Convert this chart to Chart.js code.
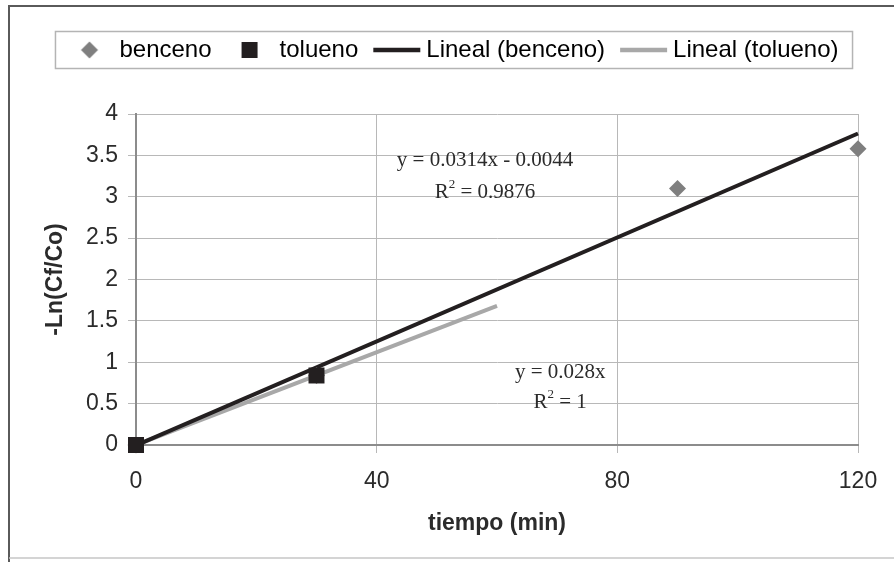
<!DOCTYPE html>
<html>
<head>
<meta charset="utf-8">
<script src="https://cdn.jsdelivr.net/npm/chart.js@4.4.1/dist/chart.umd.min.js"></script>
<style>
html, body { margin: 0; padding: 0; background: #fff; }
#wrap { width: 894px; height: 562px; position: relative; }
</style>
</head>
<body>
<div id="wrap"><canvas id="grafiek"></canvas></div>
<script>
// meetpunten
const bencenoX = [0, 30, 90, 120];
const bencenoY = [0, 0.84, 3.1, 3.58];
const toluenoX = [0, 30];
const toluenoY = [0, 0.84];

// trendlijnen: begin- en eindpunt zoals in de figuur
const lijnBencenoX = [0, 120];
const lijnBencenoY = [-0.0044, 3.764];
const lijnToluenoX = [0, 60];
const lijnToluenoY = [0, 1.68];

const xTicks = [0, 40, 80, 120];
const yTicks = [0, 0.5, 1, 1.5, 2, 2.5, 3, 3.5, 4];

const reeksNamen = ['benceno', 'tolueno', 'Lineal (benceno)', 'Lineal (tolueno)'];
const vergelijkingen = ['y = 0.0314x - 0.0044', 'y = 0.028x'];
const r2Waarden = ['0.9876', '1'];

// kleuren
const GRIJS_RUIT = '#7f7f7f';
const ZWART = '#231f20';
const GRIJS_LIJN = '#a8a8a8';
const TEKST = '#2b2b2b';
const SANS = '"Liberation Sans", Arial, sans-serif';
const SERIF = '"Liberation Serif", "Times New Roman", serif';

// plek van de vergelijkingen (in asseneenheden)
const labelPlek = [
    { x: 58, y1: 3.44, y2: 3.05 },
    { x: 70.5, y1: 0.88, y2: 0.51 }
];

function punten(xs, ys) { return xs.map((x, i) => ({ x: x, y: ys[i] })); }

function maakIcoon(w, h, teken) {
    const c = document.createElement('canvas');
    c.width = w; c.height = h;
    teken(c.getContext('2d'));
    return c;
}

const icoonRuit = maakIcoon(30, 24, ctx => {
    ctx.fillStyle = GRIJS_RUIT;
    ctx.beginPath();
    ctx.moveTo(12, 3.5); ctx.lineTo(20.5, 12); ctx.lineTo(12, 20.5); ctx.lineTo(3.5, 12);
    ctx.closePath(); ctx.fill();
});
const icoonVierkant = maakIcoon(30, 24, ctx => {
    ctx.fillStyle = ZWART;
    ctx.fillRect(4, 4, 16, 16);
});
function icoonLijn(kleur) {
    return maakIcoon(60, 24, ctx => {
        ctx.strokeStyle = kleur; ctx.lineWidth = 4.5;
        ctx.beginPath(); ctx.moveTo(4, 12); ctx.lineTo(51, 12); ctx.stroke();
    });
}
const iconen = [icoonRuit, icoonVierkant, icoonLijn(ZWART), icoonLijn(GRIJS_LIJN)];

// kader rond de figuur
const kaderPlugin = {
    id: 'kader',
    beforeDraw(chart) {
        const ctx = chart.ctx;
        ctx.save();
        ctx.fillStyle = '#fff';
        ctx.fillRect(0, 0, chart.width, chart.height);
        ctx.strokeStyle = '#5a5a5a'; ctx.lineWidth = 2;
        ctx.beginPath(); ctx.moveTo(9, chart.height); ctx.lineTo(9, 6); ctx.lineTo(chart.width, 6); ctx.stroke();
        ctx.strokeStyle = '#c6c6c6'; ctx.lineWidth = 1.5;
        ctx.beginPath(); ctx.moveTo(9, 558); ctx.lineTo(chart.width, 558); ctx.stroke();
        ctx.restore();
    }
};

// legenda verschuiven en omkaderen
const legendaPlugin = {
    id: 'legendaKader',
    afterLayout(chart) {
        const lg = chart.legend;
        const dx = 24, dy = 12 - lg.top;
        lg.left += dx; lg.right += dx;
        lg.top += dy; lg.bottom += dy;
    },
    afterDraw(chart) {
        const lg = chart.legend;
        const pad = lg.options.labels.padding;
        const start = (lg.left + pad + lg.right - lg.lineWidths[0]) / 2;
        const eind = start + lg.lineWidths[0] - pad;
        const midden = lg.top + pad + 12;
        const ctx = chart.ctx;
        ctx.save();
        ctx.strokeStyle = '#b4b4b4'; ctx.lineWidth = 1.5;
        ctx.strokeRect(start - 22, midden - 18.5, eind - start + 36, 37);
        ctx.restore();
    }
};

// vergelijkingen van de trendlijnen
const vergelijkingPlugin = {
    id: 'vergelijkingen',
    afterDatasetsDraw(chart) {
        const ctx = chart.ctx;
        const sx = chart.scales.x, sy = chart.scales.y;
        ctx.save();
        ctx.fillStyle = TEKST;
        ctx.textBaseline = 'middle';
        labelPlek.forEach((p, i) => {
            const cx = sx.getPixelForValue(p.x);
            ctx.font = '21px ' + SERIF;
            ctx.textAlign = 'center';
            ctx.fillText(vergelijkingen[i], cx, sy.getPixelForValue(p.y1));

            const y2 = sy.getPixelForValue(p.y2);
            const rest = ' = ' + r2Waarden[i];
            const wR = ctx.measureText('R').width, wRest = ctx.measureText(rest).width;
            ctx.font = '13px ' + SERIF;
            const w2 = ctx.measureText('2').width;
            let x = cx - (wR + w2 + wRest) / 2;
            ctx.textAlign = 'left';
            ctx.font = '21px ' + SERIF;
            ctx.fillText('R', x, y2);
            ctx.font = '13px ' + SERIF;
            ctx.fillText('2', x + wR, y2 - 8);
            ctx.font = '21px ' + SERIF;
            ctx.fillText(rest, x + wR + w2, y2);
        });
        ctx.restore();
    }
};

new Chart(document.getElementById('grafiek'), {
    type: 'scatter',
    data: {
        datasets: [
            { label: reeksNamen[0], data: punten(bencenoX, bencenoY), pointStyle: 'rectRot', pointRadius: 8.5,
              backgroundColor: GRIJS_RUIT, borderWidth: 0, order: 1, clip: false },
            { label: reeksNamen[1], data: punten(toluenoX, toluenoY), pointStyle: 'rect', pointRadius: 11.3,
              backgroundColor: ZWART, borderWidth: 0, order: 0, clip: false },
            { type: 'line', label: reeksNamen[2], data: punten(lijnBencenoX, lijnBencenoY), showLine: true,
              borderColor: ZWART, borderWidth: 4, pointRadius: 0, order: 2, clip: false },
            { type: 'line', label: reeksNamen[3], data: punten(lijnToluenoX, lijnToluenoY), showLine: true,
              borderColor: GRIJS_LIJN, borderWidth: 4, pointRadius: 0, order: 3 }
        ]
    },
    options: {
        responsive: true, maintainAspectRatio: false, animation: false,
        layout: { padding: { left: 10, right: 36, top: 54, bottom: 0 } },
        plugins: {
            tooltip: { enabled: false },
            legend: {
                position: 'top',
                labels: {
                    usePointStyle: true, pointStyleWidth: 30, boxHeight: 24, padding: 26,
                    color: TEKST, font: { family: SANS, size: 24 },
                    generateLabels: chart => chart.data.datasets.map((ds, i) => ({
                        text: ds.label, pointStyle: iconen[i], fillStyle: 'transparent',
                        strokeStyle: 'transparent', lineWidth: 0, hidden: false, datasetIndex: i
                    }))
                }
            }
        },
        scales: {
            x: {
                type: 'linear', min: 0, max: 120,
                afterBuildTicks: s => { s.ticks = xTicks.map(v => ({ value: v })); },
                afterFit: s => { s.height = 117; },
                ticks: { color: TEKST, font: { family: SANS, size: 23 }, padding: 15, callback: v => String(v) },
                grid: { color: '#b8b8b8', lineWidth: 1, tickLength: 8 },
                border: { color: '#8c8c8c', width: 2 },
                title: { display: true, text: 'tiempo (min)', color: TEKST,
                         font: { family: SANS, size: 23, weight: 'bold' }, padding: { bottom: 25 } }
            },
            y: {
                type: 'linear', min: 0, max: 4,
                afterBuildTicks: s => { s.ticks = yTicks.map(v => ({ value: v })); },
                afterFit: s => { s.width = 126; },
                ticks: { color: TEKST, font: { family: SANS, size: 23 }, padding: 10, callback: v => String(v) },
                grid: { color: '#b8b8b8', lineWidth: 1, tickLength: 8 },
                border: { color: '#8c8c8c', width: 2 },
                title: { display: true, text: '-Ln(Cf/Co)', color: TEKST,
                         font: { family: SANS, size: 23, weight: 'bold' }, padding: { top: 32 } }
            }
        }
    },
    plugins: [kaderPlugin, legendaPlugin, vergelijkingPlugin]
});
</script>
</body>
</html>
